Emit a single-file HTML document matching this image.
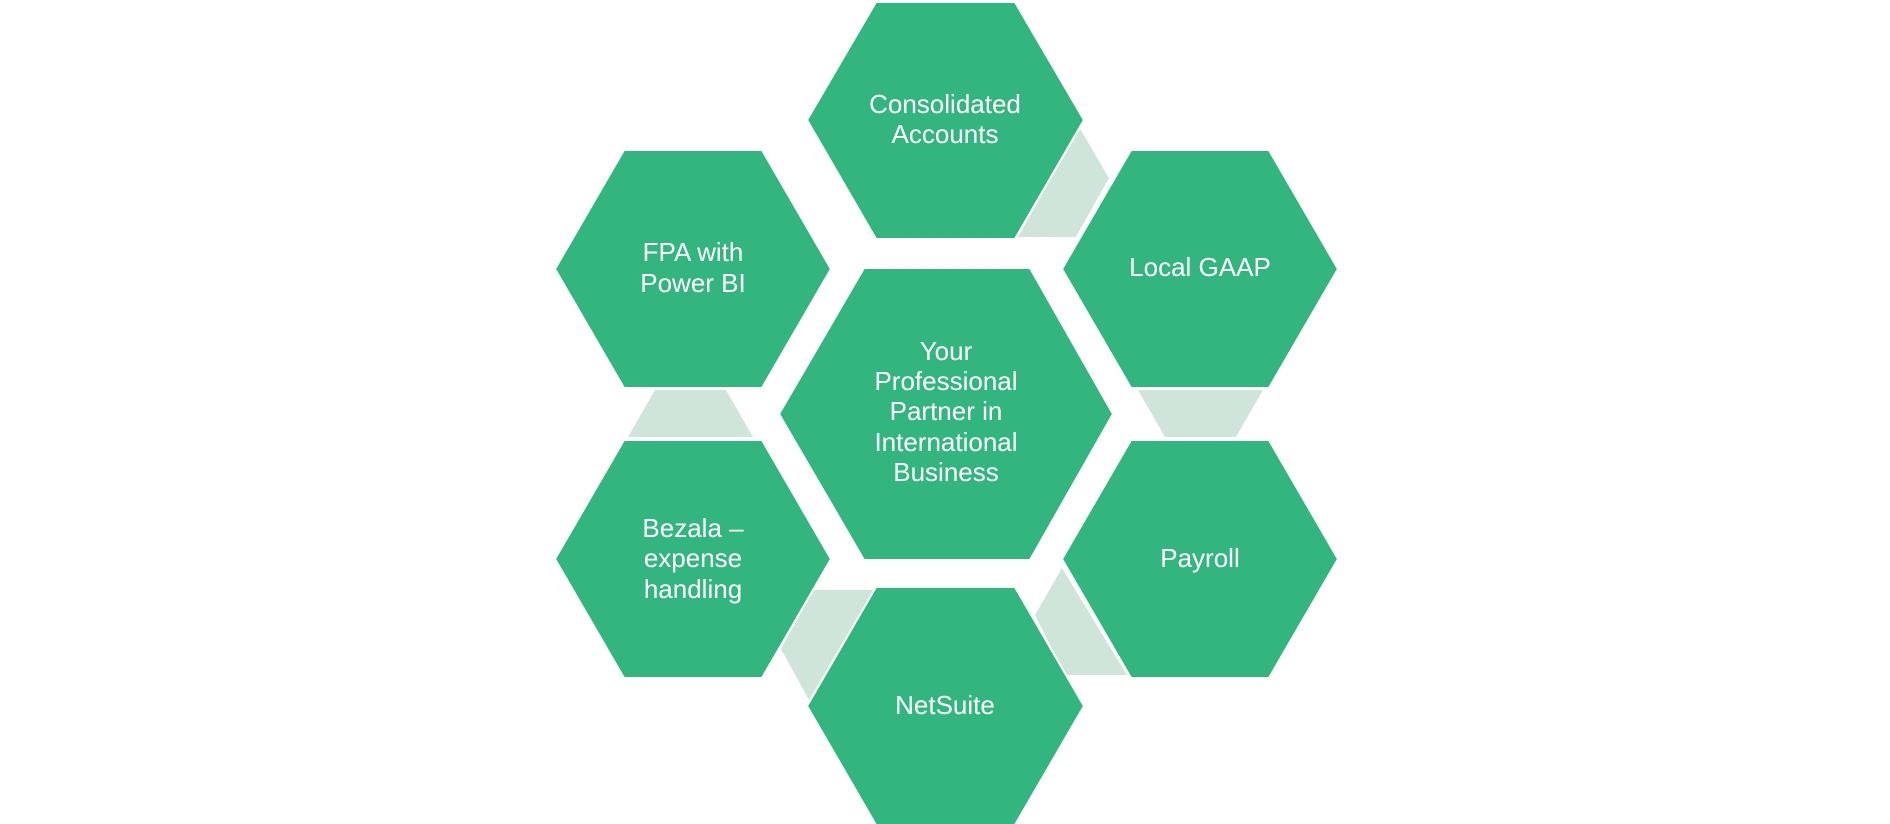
<!DOCTYPE html>
<html><head><meta charset="utf-8"><style>
html,body{margin:0;padding:0;background:#fff;width:1890px;height:824px;overflow:hidden}
text{font-family:"Liberation Sans",Arial,sans-serif;font-size:26px;fill:#fff;text-anchor:middle}
</style></head><body>
<svg width="1890" height="824" viewBox="0 0 1890 824" xmlns="http://www.w3.org/2000/svg">
<g fill="#cfe5d9">
<polygon points="1079,127 1109,178 1076,237 1018,237"/>
<polygon points="1138,390 1263,390 1236,437 1165,437"/>
<polygon points="1062,568 1127,675 1065,675 1035,615"/>
<polygon points="874,590 809,700 781,649 813,590"/>
<polygon points="655,390 726,390 753,437 628,437"/>
</g>
<g fill="#33b57f" stroke="#fff" stroke-width="2">
<polygon points="807,120 876,2 1015,2 1084,120 1015,239 876,239"/>
<polygon points="555,269 624,150 762,150 831,269 762,388 624,388"/>
<polygon points="1062,269 1131,150 1269,150 1338,269 1269,388 1131,388"/>
<polygon points="779,414 864,268 1030,268 1113,414 1030,560 864,560"/>
<polygon points="555,559 624,440 762,440 831,559 762,678 624,678"/>
<polygon points="1062,559 1131,440 1269,440 1338,559 1269,678 1131,678"/>
<polygon points="807,706 876,587 1015,587 1084,706 1015,825 876,825"/>
</g>
<text x="945" y="113">Consolidated</text>
<text x="945" y="143">Accounts</text>
<text x="693" y="261">FPA with</text>
<text x="693" y="292">Power BI</text>
<text x="1200" y="276">Local GAAP</text>
<text x="946" y="360">Your</text>
<text x="946" y="390">Professional</text>
<text x="946" y="420">Partner in</text>
<text x="946" y="451">International</text>
<text x="946" y="481">Business</text>
<text x="693" y="537">Bezala –</text>
<text x="693" y="567">expense</text>
<text x="693" y="598">handling</text>
<text x="1200" y="567">Payroll</text>
<text x="945" y="714">NetSuite</text>
</svg>
</body></html>
